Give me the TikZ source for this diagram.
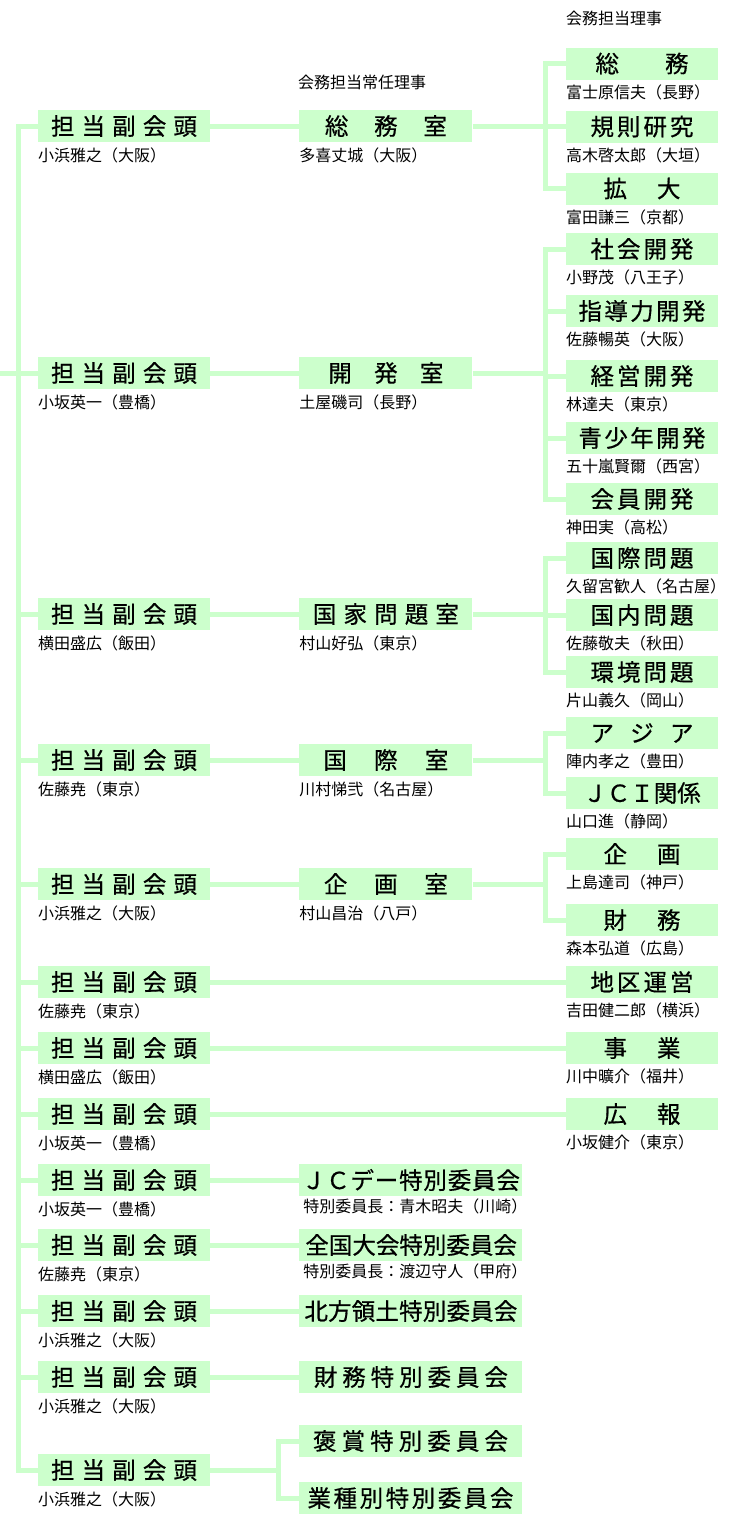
\documentclass[tikz,border=0pt]{standalone}
\usepackage{fontspec}
\setmainfont{Noto Sans CJK JP}
\newfontfamily\boxfont[FakeBold=0.6]{Noto Sans CJK JP}
\usetikzlibrary{positioning}
\definecolor{paleg}{RGB}{204,255,204}
\newcommand{\spread}[2]{\makebox[#1pt][s]{\spaceskip=0pt plus 1fil #2}}
\tikzset{vpbox/.style={
        rectangle,
        fill=paleg,
        inner sep=0pt,
        minimum width=172pt,
        minimum height=32pt,
        font=\boxfont\fontsize{23.5}{23.5}\selectfont
}}
\tikzset{roombox/.style={vpbox, minimum width=173pt}}
\tikzset{cmbox/.style={vpbox, minimum width=152pt}}
\tikzset{spbox/.style={vpbox, minimum width=223pt}}
\tikzset{person/.style={anchor=west, inner sep=0pt, font=\fontsize{16}{16}\selectfont}}
\tikzset{link/.style={draw=paleg, line width=5pt}}

\begin{document}
\begin{tikzpicture}[x=1pt, y=-1pt, node distance=89pt]
\useasboundingbox (0,0) rectangle (745,1515);

\node[person] (hd1) at (566,18.5) {会務担当理事};
\node[person] (hd2) at (298,82) {会務担当常任理事};

% vice presidents
\node[vpbox] (vp1) at (124,126) {\spread{146}{担 当 副 会 頭}};
\node[vpbox] (vp2) at (124,373) {\spread{146}{担 当 副 会 頭}};
\node[vpbox] (vp3) at (124,614) {\spread{146}{担 当 副 会 頭}};
\node[vpbox] (vp4) at (124,760) {\spread{146}{担 当 副 会 頭}};
\node[vpbox] (vp5) at (124,884) {\spread{146}{担 当 副 会 頭}};
\node[vpbox] (vp6) at (124,982) {\spread{146}{担 当 副 会 頭}};
\node[vpbox] (vp7) at (124,1048) {\spread{146}{担 当 副 会 頭}};
\node[vpbox] (vp8) at (124,1114) {\spread{146}{担 当 副 会 頭}};
\node[vpbox] (vp9) at (124,1180) {\spread{146}{担 当 副 会 頭}};
\node[vpbox] (vp10) at (124,1245) {\spread{146}{担 当 副 会 頭}};
\node[vpbox] (vp11) at (124,1311) {\spread{146}{担 当 副 会 頭}};
\node[vpbox] (vp12) at (124,1377) {\spread{146}{担 当 副 会 頭}};
\node[vpbox] (vp13) at (124,1470) {\spread{146}{担 当 副 会 頭}};

\node[person] (nvp1) at ([yshift=-13.5pt]vp1.south west) {小浜雅之（大阪）};
\node[person] (nvp2) at ([yshift=-13.5pt]vp2.south west) {小坂英一（豊橋）};
\node[person] (nvp3) at ([yshift=-13.5pt]vp3.south west) {横田盛広（飯田）};
\node[person] (nvp4) at ([yshift=-13.5pt]vp4.south west) {佐藤尭（東京）};
\node[person] (nvp5) at ([yshift=-13.5pt]vp5.south west) {小浜雅之（大阪）};
\node[person] (nvp6) at ([yshift=-13.5pt]vp6.south west) {佐藤尭（東京）};
\node[person] (nvp7) at ([yshift=-13.5pt]vp7.south west) {横田盛広（飯田）};
\node[person] (nvp8) at ([yshift=-13.5pt]vp8.south west) {小坂英一（豊橋）};
\node[person] (nvp9) at ([yshift=-13.5pt]vp9.south west) {小坂英一（豊橋）};
\node[person] (nvp10) at ([yshift=-13.5pt]vp10.south west) {佐藤尭（東京）};
\node[person] (nvp11) at ([yshift=-13.5pt]vp11.south west) {小浜雅之（大阪）};
\node[person] (nvp12) at ([yshift=-13.5pt]vp12.south west) {小浜雅之（大阪）};
\node[person] (nvp13) at ([yshift=-13.5pt]vp13.south west) {小浜雅之（大阪）};

% rooms
\node[roombox, right=of vp1] (rm1) {\spread{122}{総 務 室}};
\node[roombox, right=of vp2] (rm2) {\spread{115}{開 発 室}};
\node[roombox, right=of vp3] (rm3) {\spread{146}{国 家 問 題 室}};
\node[roombox, right=of vp4] (rm4) {\spread{125}{国 際 室}};
\node[roombox, right=of vp5] (rm5) {\spread{124}{企 画 室}};

\node[person] (nrm1) at ([yshift=-13.5pt]rm1.south west) {多喜丈城（大阪）};
\node[person] (nrm2) at ([yshift=-13.5pt]rm2.south west) {土屋磯司（長野）};
\node[person] (nrm3) at ([yshift=-13.5pt]rm3.south west) {村山好弘（東京）};
\node[person] (nrm4) at ([yshift=-13.5pt]rm4.south west) {川村悌弐（名古屋）};
\node[person] (nrm5) at ([yshift=-13.5pt]rm5.south west) {村山昌治（八戸）};

% committees
\node[cmbox] (cm1) at (642,63.5) {\spread{93}{総 務}};
\node[cmbox] (cm2) at (642,126.5) {\spread{103}{規 則 研 究}};
\node[cmbox] (cm3) at (642,188.5) {\spread{77}{拡 大}};
\node[cmbox] (cm4) at (642,249) {\spread{103}{社 会 開 発}};
\node[cmbox] (cm5) at (642,311) {\spread{127}{指 導 力 開 発}};
\node[cmbox] (cm6) at (642,376) {\spread{103}{経 営 開 発}};
\node[cmbox] (cm7) at (642,438) {\spread{127}{青 少 年 開 発}};
\node[cmbox] (cm8) at (642,499) {\spread{103}{会 員 開 発}};
\node[cmbox] (cm9) at (642,558) {\spread{103}{国 際 問 題}};
\node[cmbox] (cm10) at (642,615) {\spread{103}{国 内 問 題}};
\node[cmbox] (cm11) at (642,672) {\spread{103}{環 境 問 題}};
\node[cmbox] (cm12) at (642,733) {\spread{103}{ア ジ ア}};
\node[cmbox] (cm13) at (642,793) {ＪＣＩ関係};
\node[cmbox] (cm14) at (642,854) {\spread{77}{企 画}};
\node[cmbox] (cm15) at (642,920) {\spread{77}{財 務}};
\node[cmbox] (cm16) at (642,982) {\spread{103}{地 区 運 営}};
\node[cmbox] (cm17) at (642,1048) {\spread{77}{事 業}};
\node[cmbox] (cm18) at (642,1114) {\spread{77}{広 報}};

\node[person] (ncm1) at ([yshift=-12.5pt]cm1.south west) {富士原信夫（長野）};
\node[person] (ncm2) at ([yshift=-12.5pt]cm2.south west) {高木啓太郎（大垣）};
\node[person] (ncm3) at ([yshift=-12.5pt]cm3.south west) {富田謙三（京都）};
\node[person] (ncm4) at ([yshift=-12.5pt]cm4.south west) {小野茂（八王子）};
\node[person] (ncm5) at ([yshift=-12.5pt]cm5.south west) {佐藤暢英（大阪）};
\node[person] (ncm6) at ([yshift=-12.5pt]cm6.south west) {林達夫（東京）};
\node[person] (ncm7) at ([yshift=-12.5pt]cm7.south west) {五十嵐賢爾（西宮）};
\node[person] (ncm8) at ([yshift=-12.5pt]cm8.south west) {神田実（高松）};
\node[person] (ncm9) at ([yshift=-12.5pt]cm9.south west) {久留宮歓人（名古屋）};
\node[person] (ncm10) at ([yshift=-12.5pt]cm10.south west) {佐藤敬夫（秋田）};
\node[person] (ncm11) at ([yshift=-12.5pt]cm11.south west) {片山義久（岡山）};
\node[person] (ncm12) at ([yshift=-12.5pt]cm12.south west) {陣内孝之（豊田）};
\node[person] (ncm13) at ([yshift=-12.5pt]cm13.south west) {山口進（静岡）};
\node[person] (ncm14) at ([yshift=-12.5pt]cm14.south west) {上島達司（神戸）};
\node[person] (ncm15) at ([yshift=-12.5pt]cm15.south west) {森本弘道（広島）};
\node[person] (ncm16) at ([yshift=-12.5pt]cm16.south west) {吉田健二郎（横浜）};
\node[person] (ncm17) at ([yshift=-12.5pt]cm17.south west) {川中曠介（福井）};
\node[person] (ncm18) at ([yshift=-12.5pt]cm18.south west) {小坂健介（東京）};

% special committees
\node[spbox, right=of vp9] (sp1) {\spread{218}{Ｊ Ｃ デ ー 特 別 委 員 会}};
\node[spbox, right=of vp10] (sp2) {\spread{211}{全 国 大 会 特 別 委 員 会}};
\node[spbox, right=of vp11] (sp3) {\spread{213}{北 方 領 土 特 別 委 員 会}};
\node[spbox, right=of vp12] (sp4) {\spread{194}{財 務 特 別 委 員 会}};
\node[spbox] (sp5) at (410.5,1441) {\spread{195}{褒 賞 特 別 委 員 会}};
\node[spbox] (sp6) at (410.5,1498) {\spread{206}{業 種 別 特 別 委 員 会}};

\node[person] (nsp1) at ([xshift=4pt,yshift=-10.5pt]sp1.south west) {特別委員長：青木昭夫（川崎）};
\node[person] (nsp2) at ([xshift=4pt,yshift=-10.5pt]sp2.south west) {特別委員長：渡辺守人（甲府）};

% connectors
\coordinate (tx) at (18.5,0);
\coordinate (jx) at (545,0);
\coordinate (kx) at (278.5,0);
\coordinate (up) at (0,373);

\draw[link] (up) -- (up -| tx);
\draw[link] (vp1.west) -- (vp1.west -| tx) -- (vp13.west -| tx) -- (vp13.west);
\foreach \i in {2,...,12}
    \draw[link] (vp\i.west -| tx) -- (vp\i.west);

\foreach \i in {1,...,5}
    \draw[link] (vp\i) -- (rm\i);

\draw[link] (rm1.east) -- (rm1.east -| jx);
\draw[link] (cm1.west) -- (cm1.west -| jx) -- (cm3.west -| jx) -- (cm3.west);
\draw[link] (cm2.west -| jx) -- (cm2.west);

\draw[link] (rm2.east) -- (rm2.east -| jx);
\draw[link] (cm4.west) -- (cm4.west -| jx) -- (cm8.west -| jx) -- (cm8.west);
\foreach \i in {5,6,7}
    \draw[link] (cm\i.west -| jx) -- (cm\i.west);

\draw[link] (rm3.east) -- (rm3.east -| jx);
\draw[link] (cm9.west) -- (cm9.west -| jx) -- (cm11.west -| jx) -- (cm11.west);
\draw[link] (cm10.west -| jx) -- (cm10.west);

\draw[link] (rm4.east) -- (rm4.east -| jx);
\draw[link] (cm12.west) -- (cm12.west -| jx) -- (cm13.west -| jx) -- (cm13.west);

\draw[link] (rm5.east) -- (rm5.east -| jx);
\draw[link] (cm14.west) -- (cm14.west -| jx) -- (cm15.west -| jx) -- (cm15.west);

\draw[link] (vp6) -- (cm16);
\draw[link] (vp7) -- (cm17);
\draw[link] (vp8) -- (cm18);

\draw[link] (vp9) -- (sp1);
\draw[link] (vp10) -- (sp2);
\draw[link] (vp11) -- (sp3);
\draw[link] (vp12) -- (sp4);

\draw[link] (vp13.east) -- (vp13.east -| kx);
\draw[link] (sp5.west) -- (sp5.west -| kx) -- (sp6.west -| kx) -- (sp6.west);
\end{tikzpicture}
\end{document}
